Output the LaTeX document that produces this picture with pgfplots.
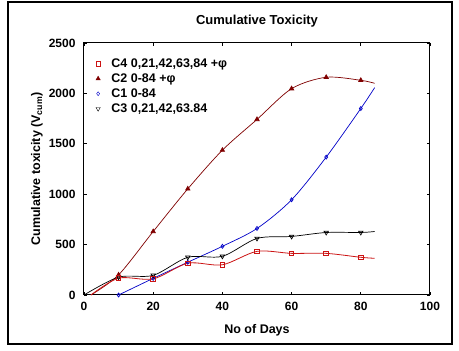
\documentclass[border=0pt]{standalone}
\usepackage{pgfplots}
\pgfplotsset{compat=1.18}
\usepackage{fontspec}
\setmainfont{Liberation Sans}
\definecolor{cfour}{RGB}{204,20,20}
\definecolor{ctwo}{RGB}{128,0,0}
\definecolor{cone}{RGB}{0,0,200}
\begin{document}
\begin{tikzpicture}[x=1pt,y=1pt]
\useasboundingbox (0,0) rectangle (459,351);
\fill[white] (0,0) rectangle (459,351);
\draw[line width=1.1pt] (8,7) rectangle (452,349);
\begin{axis}[
  at={(84pt,56pt)}, anchor=south west,
  width=346pt, height=252pt, scale only axis,
  xmin=0, xmax=100, ymin=0, ymax=2500,
  xtick={0,20,...,100}, ytick={0,500,...,2500},
  tick align=inside, major tick length=3pt,
  axis line style={line width=1pt},
  every tick/.style={black, line width=0.6pt},
  /pgf/number format/assume math mode=true,
  /pgf/number format/1000 sep={},
  ticklabel style={font=\bfseries\fontsize{12}{14}\selectfont},
  yticklabel style={xshift=-5pt},
  xticklabel style={yshift=-4pt},
  title={Cumulative Toxicity},
  title style={font=\bfseries\fontsize{13}{15}\selectfont, yshift=6pt},
  xlabel={No of Days},
  xlabel style={font=\bfseries\fontsize{12.5}{15}\selectfont, at={(axis description cs:0.5,0)}, anchor=center, yshift=-35pt},
  ylabel={Cumulative toxicity (V\textsubscript{cum})},
  ylabel style={font=\bfseries\fontsize{12.5}{15}\selectfont, at={(axis description cs:0,0.5)}, anchor=center, yshift=47pt},
  legend style={draw=none, fill=none, at={(rel axis cs:0.025,0.955)}, anchor=north west,
    font=\bfseries\fontsize{12.5}{15}\selectfont, row sep=0.8pt,
    /tikz/every odd column/.append style={column sep=9pt}},
  legend cell align=left,
  clip=false,
]
\addlegendimage{only marks, mark=square, mark size=2.3pt, color=cfour}
\addlegendentry{C4 0,21,42,63,84 +φ}
\addlegendimage{only marks, mark=triangle*, mark size=2.5pt, color=ctwo}
\addlegendentry{C2 0-84 +φ}
\addlegendimage{only marks, mark=diamond, mark size=2pt, color=cone}
\addlegendentry{C1 0-84}
\addlegendimage{only marks, mark=triangle, mark size=2.5pt, mark options={rotate=180}, color=black}
\addlegendentry{C3 0,21,42,63.84}

% C2
\addplot[ctwo, line width=0.7pt, smooth, tension=0.5, mark=triangle*, mark size=2.5pt, mark indices={2,...,9}, forget plot]
coordinates {(2,0)(10,200)(20,630)(30,1053)(40,1437)(50,1742)(60,2047)(70,2160)(80,2130)(84,2100)};
% C1
\addplot[cone, line width=0.7pt, smooth, tension=0.5, mark=diamond, mark size=2pt, mark indices={1,...,8}, forget plot]
coordinates {(10,0)(20,165)(30,325)(40,483)(50,660)(60,945)(70,1368)(80,1850)(84,2057)};
% C3
\addplot[black, line width=0.7pt, smooth, tension=0.5, mark=triangle, mark size=2.5pt, mark options={rotate=180}, mark indices={2,...,9}, forget plot]
coordinates {(0,0)(10,177)(20,195)(30,374)(40,384)(50,561)(60,581)(70,620)(80,620)(84,630)};
% C4
\addplot[cfour, line width=0.8pt, smooth, tension=0.5, mark=square, mark size=2.3pt, mark indices={2,...,9}, forget plot]
coordinates {(2,0)(10,167)(20,160)(30,315)(40,300)(50,433)(60,413)(70,413)(80,374)(84,364)};
\end{axis}
\end{tikzpicture}
\end{document}
